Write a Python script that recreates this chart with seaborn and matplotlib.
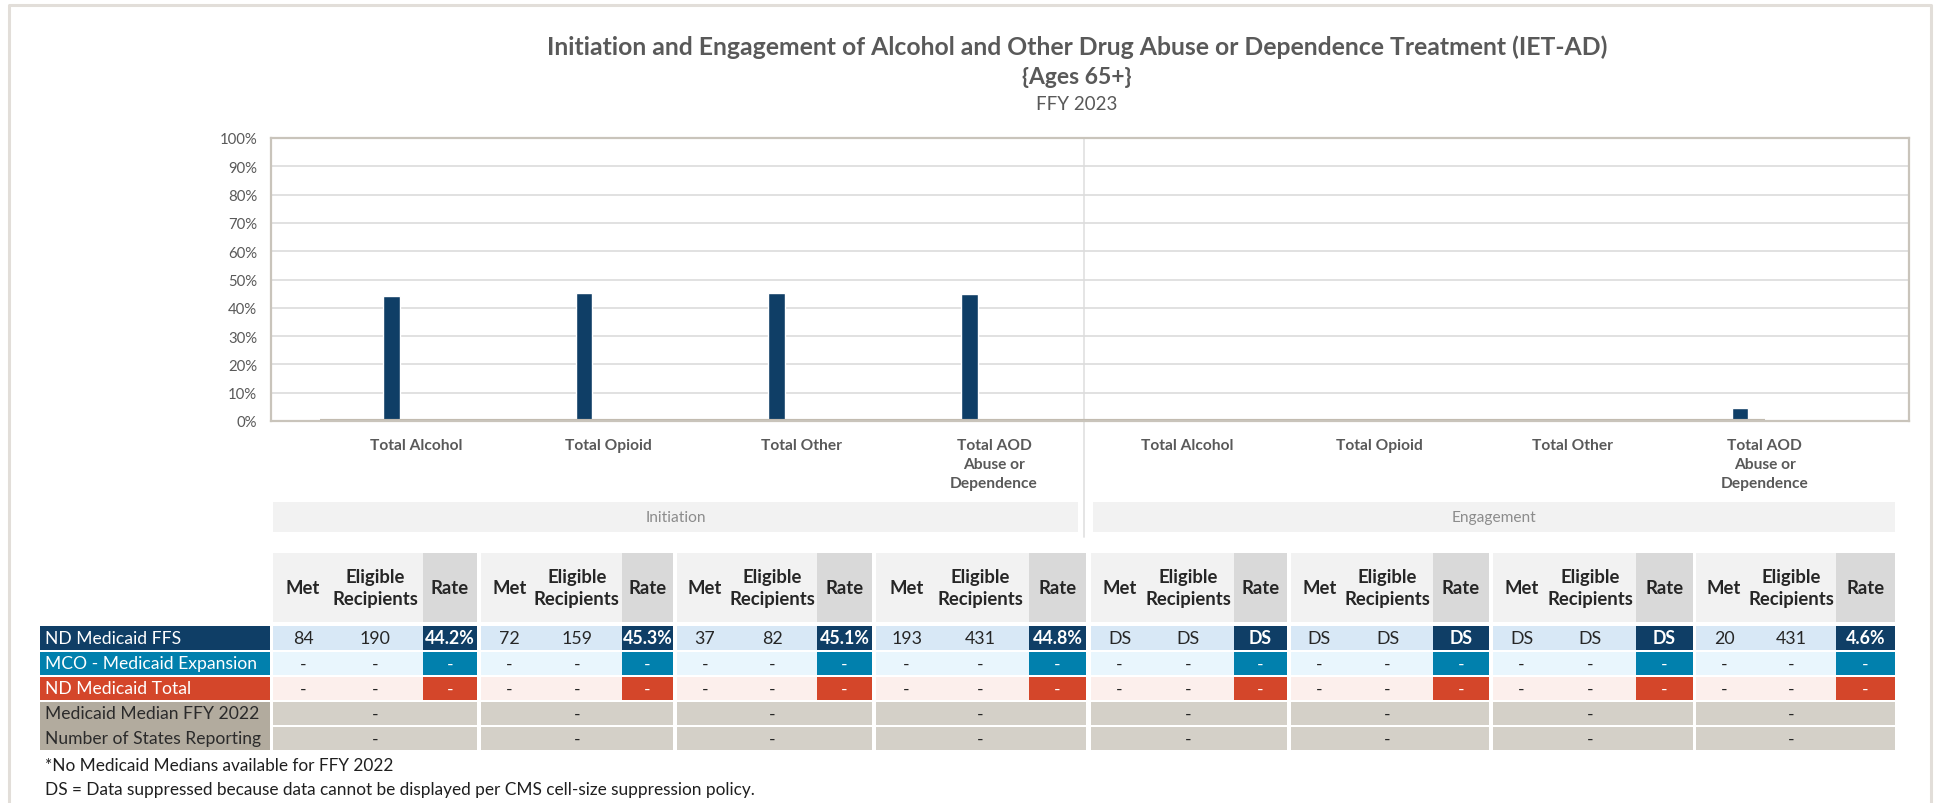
import numpy as np
import pandas as pd
import matplotlib
matplotlib.use("Agg")
import matplotlib.pyplot as plt
from matplotlib.patches import Rectangle
from matplotlib.lines import Line2D
from matplotlib.ticker import PercentFormatter
import seaborn as sns

# ---------------- data ----------------
groups = ["Initiation", "Engagement"]
measures = ["Total Alcohol", "Total Opioid", "Total Other", "Total AOD\nAbuse or\nDependence"]
series = ["ND Medicaid FFS", "MCO - Medicaid Expansion", "ND Medicaid Total", "Medicaid Median FFY 2022"]

ffs_met = ["84", "72", "37", "193", "DS", "DS", "DS", "20"]
ffs_elig = ["190", "159", "82", "431", "DS", "DS", "DS", "431"]
ffs_rate = [44.2, 45.3, 45.1, 44.8, np.nan, np.nan, np.nan, 4.6]
ffs_rate_lbl = ["44.2%", "45.3%", "45.1%", "44.8%", "DS", "DS", "DS", "4.6%"]
mco_met = ["-"] * 8
mco_elig = ["-"] * 8
mco_rate = [np.nan] * 8
mco_rate_lbl = ["-"] * 8
tot_met = ["-"] * 8
tot_elig = ["-"] * 8
tot_rate = [np.nan] * 8
tot_rate_lbl = ["-"] * 8
median_vals = ["-"] * 8
states_vals = ["-"] * 8

row_labels = ["ND Medicaid FFS", "MCO - Medicaid Expansion", "ND Medicaid Total",
              "Medicaid Median FFY 2022", "Number of States Reporting"]
footnotes = ["*No Medicaid Medians available for FFY 2022",
             "DS = Data suppressed because data cannot be displayed per CMS cell-size suppression policy."]

# ---------------- styling ----------------
W, H = 1935, 804
C_FFS = "#0f3e66"
C_MCO = "#0180ad"
C_TOT = "#d4462a"
C_MED = "#b2ab9e"
C_TXT = "#595959"
FONT = "Lato"

sns.set_theme(style="white")
plt.rcParams["font.family"] = [FONT, "DejaVu Sans"]

fig = plt.figure(figsize=(W / 100, H / 100), dpi=100)
fig.patch.set_facecolor("white")

def fx(px):
    return px / W

def fy(py):
    return 1 - py / H

# overlay axes in pixel coordinates
ov = fig.add_axes([0, 0, 1, 1], zorder=0)
ov.set_xlim(0, W)
ov.set_ylim(H, 0)
ov.axis("off")

# outer frame
ov.add_line(Line2D([9, 9, 1931, 1931], [H + 5, 6, 6, H + 5], color="#e2ded9", lw=2.2))

# titles
ov.text(1077, 47, "Initiation and Engagement of Alcohol and Other Drug Abuse or Dependence Treatment (IET-AD)",
        ha="center", va="center", fontsize=17.8, fontweight="bold", color=C_TXT)
ov.text(1077, 77, "{Ages 65+}", ha="center", va="center", fontsize=16.5, fontweight="bold", color=C_TXT)
ov.text(1077, 104, "FFY 2023", ha="center", va="center", fontsize=13.5, color=C_TXT)

# ---------------- bar chart ----------------
keys = [f"{g}|{m}" for g in groups for m in measures]
cat_labels = [m for g in groups for m in measures]
rates = {series[0]: ffs_rate, series[1]: mco_rate, series[2]: tot_rate, series[3]: [np.nan] * 8}
df = pd.DataFrame([
    {"key": k, "series": s, "rate": rates[s][i] / 100 if not np.isnan(rates[s][i]) else np.nan}
    for s in series for i, k in enumerate(keys)
])

ax_l, ax_r, ax_t, ax_b = 271, 1909, 139, 422
ax = fig.add_axes([fx(ax_l), fy(ax_b), (ax_r - ax_l) / W, (ax_b - ax_t) / H], zorder=2)
ax.set_facecolor("none")
sns.barplot(data=df, x="key", y="rate", hue="series", order=keys, hue_order=series,
            palette=[C_FFS, C_MCO, C_TOT, C_MED], width=0.3425, legend=False,
            saturation=1, ax=ax, errorbar=None)

ax.set_xlim(-0.7525, 7.748)
ax.set_ylim(0, 1)
ax.set_yticks(np.arange(0, 1.01, 0.1))
ax.yaxis.set_major_formatter(PercentFormatter(1.0, decimals=0))
ax.grid(axis="y", color="#dcdcdc", lw=1.2)
ax.grid(axis="x", visible=False)
ax.set_axisbelow(True)
ax.hlines(0, -0.5, len(keys) - 1, color="#c2bbaf", lw=3, zorder=1)
ax.set_xticks(range(len(keys)))
ax.set_xticklabels(cat_labels, fontsize=11.2, fontweight="bold", color=C_TXT, linespacing=1.45, va="top")
ax.tick_params(axis="x", length=0, pad=12)
ax.tick_params(axis="y", length=0, pad=10, labelsize=10.7, labelcolor=C_TXT)
ax.set_xlabel("")
ax.set_ylabel("")
for side in ["top", "right", "left", "bottom"]:
    ax.spines[side].set_visible(True)
    ax.spines[side].set_color("#c9c4bb")
    ax.spines[side].set_linewidth(1.6)

# separator between Initiation and Engagement
ov.add_line(Line2D([1084, 1084], [139, 538], color="#e3e3e3", lw=1.3))

# group bands
bands = [(273, 1078), (1093, 1895)]
for (x0, x1), g in zip(bands, groups):
    ov.add_patch(Rectangle((x0, 503), x1 - x0, 30, color="#f2f2f2", lw=0))
    ov.text((x0 + x1) / 2, 518, g, ha="center", va="center", fontsize=11.2, color="#8c8c8c")

# ---------------- table ----------------
blocks = [(273, 423, 477), (481, 622, 673), (677, 817, 872), (876, 1029, 1086),
          (1091, 1234, 1287), (1291, 1433, 1489), (1493, 1636, 1693), (1696, 1836, 1895)]
hdr_top, hdr_bot = 554, 623
rows_y = [(627, 651), (653, 676), (678, 701), (703, 726), (728, 751)]
DARK = "#262626"
FS_HDR = 13.3
FS_VAL = 12.8

row_styles = [
    (C_FFS, "#d8e8f6", "white"),
    (C_MCO, "#e9f6fd", "white"),
    (C_TOT, "#fcefec", "white"),
]
met_rows = [ffs_met, mco_met, tot_met]
elig_rows = [ffs_elig, mco_elig, tot_elig]
rate_rows = [ffs_rate_lbl, mco_rate_lbl, tot_rate_lbl]

for i, (s, rs, re) in enumerate(blocks):
    met_c = s + (rs - s) * 0.2
    elig_c = s + (rs - s) * 0.68
    rate_c = (rs + re) / 2
    # header
    ov.add_patch(Rectangle((s, hdr_top), rs - s, hdr_bot - hdr_top, color="#f2f2f2", lw=0))
    ov.add_patch(Rectangle((rs, hdr_top), re - rs, hdr_bot - hdr_top, color="#d9d9d9", lw=0))
    hy = (hdr_top + hdr_bot) / 2
    ov.text(met_c, hy, "Met", ha="center", va="center", fontsize=FS_HDR, fontweight="bold", color=DARK)
    ov.text(elig_c, hy, "Eligible\nRecipients", ha="center", va="center", fontsize=FS_HDR,
            fontweight="bold", color=DARK, linespacing=1.35)
    ov.text(rate_c, hy, "Rate", ha="center", va="center", fontsize=FS_HDR, fontweight="bold", color=DARK)
    # colored rows
    for r, (rate_col, light_col, _) in enumerate(row_styles):
        y0, y1 = rows_y[r]
        cy = (y0 + y1) / 2
        ov.add_patch(Rectangle((s, y0), rs - s, y1 - y0, color=light_col, lw=0))
        ov.add_patch(Rectangle((rs, y0), re - rs, y1 - y0, color=rate_col, lw=0))
        ov.text(met_c, cy, met_rows[r][i], ha="center", va="center", fontsize=FS_VAL, color=DARK)
        ov.text(elig_c, cy, elig_rows[r][i], ha="center", va="center", fontsize=FS_VAL, color=DARK)
        ov.text(rate_c, cy, rate_rows[r][i], ha="center", va="center", fontsize=FS_VAL,
                fontweight="bold" if r == 0 else "normal", color="white")
    # median / states rows
    for r, vals in zip([3, 4], [median_vals, states_vals]):
        y0, y1 = rows_y[r]
        ov.add_patch(Rectangle((s, y0), re - s, y1 - y0, color="#d4d0c8", lw=0))
        ov.text(elig_c, (y0 + y1) / 2, vals[i], ha="center", va="center", fontsize=FS_VAL, color=DARK)

# row labels
lab_x0, lab_x1 = 40, 270
for r, lab in enumerate(row_labels):
    y0, y1 = rows_y[r]
    if r < 3:
        ov.add_patch(Rectangle((lab_x0, y0), lab_x1 - lab_x0, y1 - y0, color=row_styles[r][0], lw=0))
        col = "white"
    else:
        col = "#2b2b2b"
    ov.text(lab_x0 + 5, (y0 + y1) / 2, lab, ha="left", va="center", fontsize=12.6, color=col)
ov.add_patch(Rectangle((lab_x0, rows_y[3][0]), lab_x1 - lab_x0, rows_y[4][1] - rows_y[3][0],
                       color=C_MED, lw=0, zorder=0.5))

# footnotes
ov.text(45, 766, footnotes[0], ha="left", va="center", fontsize=12.4, color="#1f1f1f")
ov.text(45, 790, footnotes[1], ha="left", va="center", fontsize=12.4, color="#1f1f1f")

fig.savefig("out.png", dpi=100, facecolor="white")
